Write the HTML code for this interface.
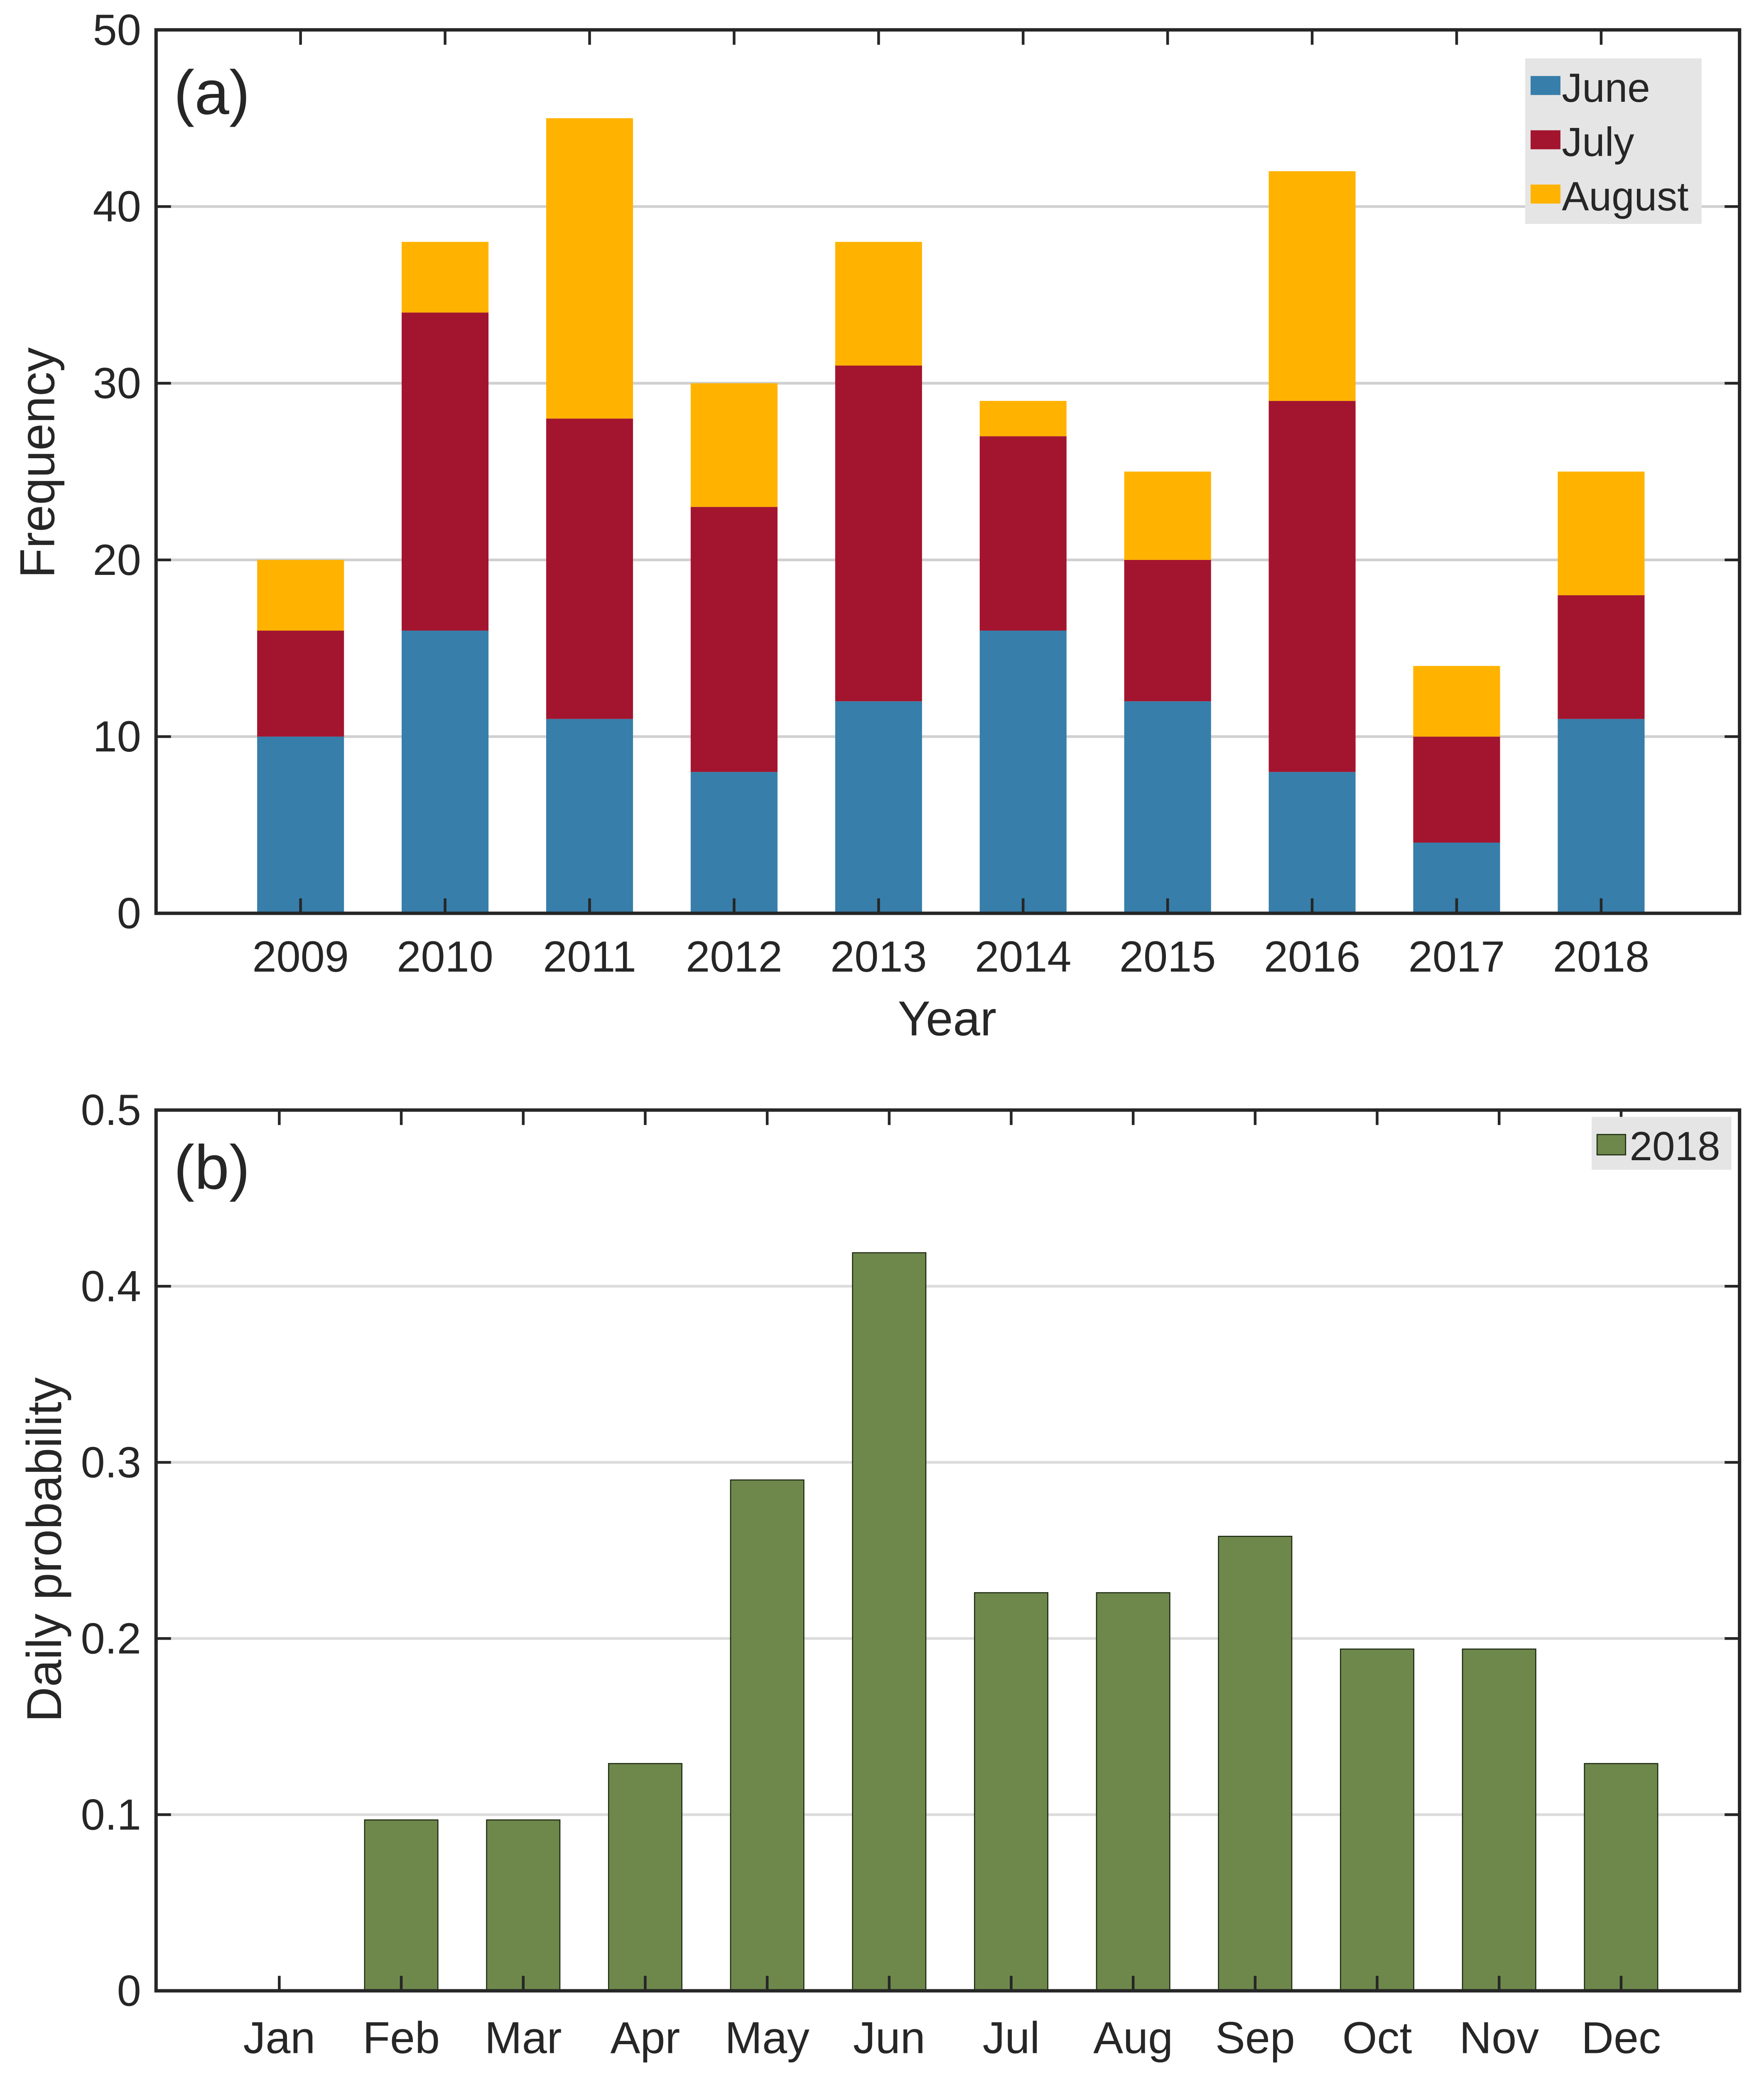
<!DOCTYPE html>
<html><head><meta charset="utf-8"><style>
html,body{margin:0;padding:0;background:#fff;width:4247px;height:5144px;overflow:hidden}
svg{display:block}
text{font-family:"Liberation Sans",Arial,sans-serif;fill:#262626}
</style></head><body>
<svg id="fig" width="4247" height="5144" viewBox="0 0 1300 1574.6" xmlns="http://www.w3.org/2000/svg">
<g id="pa"></g>
<g id="pb"></g>
</svg>
<script>
const years = ["2009","2010","2011","2012","2013","2014","2015","2016","2017","2018"];
const june = [10,16,11,8,12,16,12,8,4,11];
const july = [6,18,17,15,19,11,8,21,6,7];
const august = [4,4,17,7,7,2,5,13,4,7];
const freqTicks = [0,10,20,30,40,50];
const months = ["Jan","Feb","Mar","Apr","May","Jun","Jul","Aug","Sep","Oct","Nov","Dec"];
const prob2018 = [0,0.097,0.097,0.129,0.29,0.419,0.226,0.226,0.258,0.194,0.194,0.129];
const probTicks = [0,0.1,0.2,0.3,0.4,0.5];
const probTickLabels = ["0","0.1","0.2","0.3","0.4","0.5"];

const NS="http://www.w3.org/2000/svg";
function mk(parent,tag,attrs,txt){const e=document.createElementNS(NS,tag);for(const k in attrs)e.setAttribute(k,attrs[k]);if(txt!==undefined)e.textContent=txt;parent.appendChild(e);return e;}

// Panel A
const pa=document.getElementById('pa');
const A={l:115,r:1282,t:22,b:673};
const ya=v=>A.b-(v/50)*(A.b-A.t);
const xa=i=>221.5+i*106.5;
freqTicks.forEach(v=>{
  if(v>0&&v<50){const g=mk(pa,'line',{x1:A.l,x2:A.r,y1:ya(v),y2:ya(v),stroke:'#d0d0d0','stroke-width':2});
  
  }
  const t=mk(pa,'text',{x:104,y:ya(v)+11,'text-anchor':'end','font-size':32},String(v));
  
  
  mk(pa,'line',{x1:A.l,x2:A.l+11,y1:ya(v),y2:ya(v),stroke:'#262626','stroke-width':2});
  mk(pa,'line',{x1:A.r-11,x2:A.r,y1:ya(v),y2:ya(v),stroke:'#262626','stroke-width':2});
});
const series=[[june,'#377eaa','june'],[july,'#a3152f','july'],[august,'#ffb300','august']];
years.forEach((yr,i)=>{
  let base=0;
  series.forEach(([arr,col,nm])=>{
    const r=mk(pa,'rect',{x:xa(i)-32,width:64,y:ya(base+arr[i]),height:ya(base)-ya(base+arr[i]),fill:col});
    
    
    base+=arr[i];
  });
  mk(pa,'line',{x1:xa(i),x2:xa(i),y1:A.b,y2:A.b-11,stroke:'#262626','stroke-width':2});
  mk(pa,'line',{x1:xa(i),x2:xa(i),y1:A.t,y2:A.t+11,stroke:'#262626','stroke-width':2});
  const t=mk(pa,'text',{x:xa(i),y:716,'text-anchor':'middle','font-size':32},yr);
  
  
});
const fa=mk(pa,'rect',{x:A.l,y:A.t,width:A.r-A.l,height:A.b-A.t,fill:'none',stroke:'#262626','stroke-width':2.5});


let t;
t=mk(pa,'text',{x:698,y:763,'text-anchor':'middle','font-size':36},'Year');


t=mk(pa,'text',{x:0,y:0,'text-anchor':'middle','font-size':36,transform:'translate(40,341) rotate(-90)'},'Frequency');


t=mk(pa,'text',{x:128,y:84,'font-size':46,fill:'#000'},'(a)');


const lg=mk(pa,'g',{});


mk(lg,'rect',{x:1124,y:43,width:130,height:122,fill:'#e5e5e5'});
[['June','#377eaa',75],['July','#a3152f',115],['August','#ffb300',155]].forEach(([n,c,y])=>{
  const s=mk(lg,'rect',{x:1128,y:y-19,width:22,height:14,fill:c});
  
  
  const tx=mk(lg,'text',{x:1151,y:y,'font-size':30,fill:'#000'},n);
  
  
});

// Panel B
const pb=document.getElementById('pb');
const B={l:115,r:1282,t:818,b:1467};
const yb=v=>B.b-(v/0.5)*(B.b-B.t);
const xb=i=>205.8+i*89.9;
probTicks.forEach((v,k)=>{
  if(k>0&&k<probTicks.length-1){const g=mk(pb,'line',{x1:B.l,x2:B.r,y1:yb(v),y2:yb(v),stroke:'#dcdcdc','stroke-width':2});
  
  }
  const tt=mk(pb,'text',{x:104,y:yb(v)+11,'text-anchor':'end','font-size':32},probTickLabels[k]);
  
  
  mk(pb,'line',{x1:B.l,x2:B.l+11,y1:yb(v),y2:yb(v),stroke:'#262626','stroke-width':2});
  mk(pb,'line',{x1:B.r-11,x2:B.r,y1:yb(v),y2:yb(v),stroke:'#262626','stroke-width':2});
});
months.forEach((m,i)=>{
  if(prob2018[i]>0){
    const r=mk(pb,'rect',{x:xb(i)-27,width:54,y:yb(prob2018[i]),height:yb(0)-yb(prob2018[i]),fill:'#6e884c',stroke:'#1e2a12','stroke-width':0.8});
    
    
  }
  mk(pb,'line',{x1:xb(i),x2:xb(i),y1:B.b,y2:B.b-11,stroke:'#262626','stroke-width':2});
  mk(pb,'line',{x1:xb(i),x2:xb(i),y1:B.t,y2:B.t+11,stroke:'#262626','stroke-width':2});
  const tt=mk(pb,'text',{x:xb(i),y:1513,'text-anchor':'middle','font-size':33},m);
  
  
});
const fb=mk(pb,'rect',{x:B.l,y:B.t,width:B.r-B.l,height:B.b-B.t,fill:'none',stroke:'#262626','stroke-width':2.5});


t=mk(pb,'text',{x:698,y:1557,'text-anchor':'middle','font-size':36},'Month');


t=mk(pb,'text',{x:0,y:0,'text-anchor':'middle','font-size':36,transform:'translate(45,1142) rotate(-90)'},'Daily probability');


t=mk(pb,'text',{x:128,y:876,'font-size':46,fill:'#000'},'(b)');


const lb=mk(pb,'g',{});


mk(lb,'rect',{x:1173,y:823,width:103,height:39,fill:'#e5e5e5'});
const sw=mk(lb,'rect',{x:1177,y:836,width:21,height:15,fill:'#6e884c',stroke:'#1e2a12','stroke-width':0.8});


t=mk(lb,'text',{x:1201,y:855,'font-size':30,fill:'#000'},'2018');


</script>
</body></html>
